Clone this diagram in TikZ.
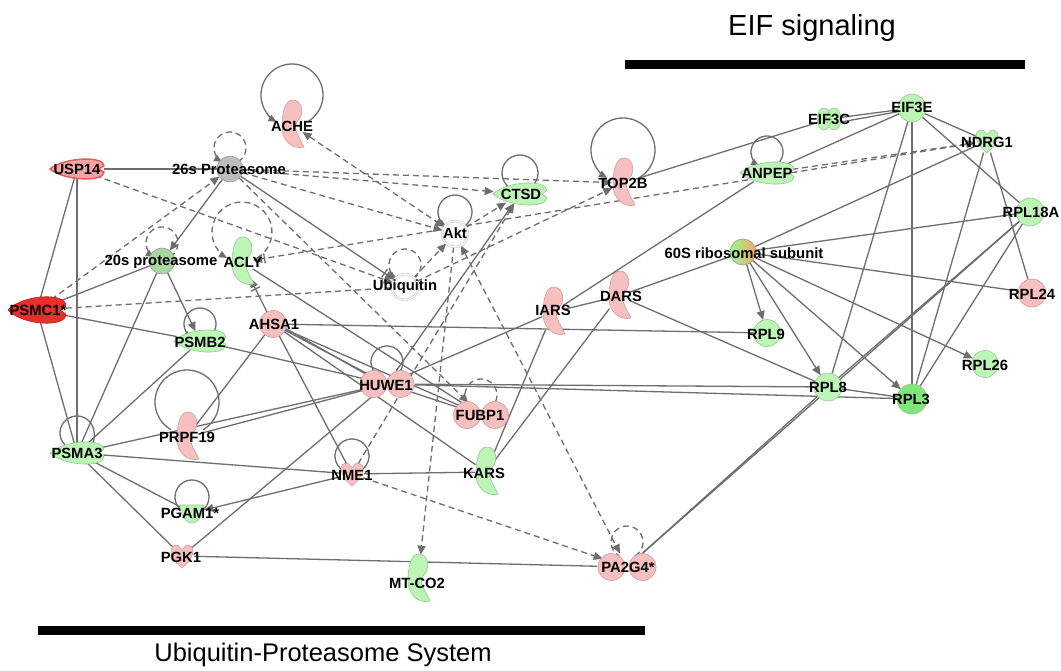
\documentclass[tikz,border=0pt]{standalone}
\usepackage{fontspec}
\setmainfont{Liberation Sans}
\usetikzlibrary{arrows.meta,shapes.geometric}
\pgfdeclarelayer{bg}
\pgfdeclarelayer{paper}
\pgfsetlayers{paper,bg,main}
\definecolor{edgec}{HTML}{6E6E6E}
\definecolor{pinkf}{HTML}{F7C0C0}
\definecolor{pinkd}{HTML}{D59A9A}
\definecolor{greenf}{HTML}{BDF5B6}
\definecolor{greend}{HTML}{93C98E}
\definecolor{redf}{HTML}{E8302A}
\definecolor{redd}{HTML}{B52020}
\definecolor{salmf}{HTML}{F6A3A3}
\definecolor{salmd}{HTML}{E25A5A}
\definecolor{brightg}{HTML}{7DE879}
\definecolor{grayf}{HTML}{BDBDBD}
\definecolor{grayd}{HTML}{9A9A9A}
\definecolor{gtwf}{HTML}{A8D8A2}
\tikzset{
 nd/.style={inner sep=0pt, outer sep=0pt},
 cn/.style={nd, circle, line width=0.6pt},
 sl/.style={draw=edgec, line width=1.3pt},
 dl/.style={draw=edgec, line width=1.3pt, dash pattern=on 6pt off 4pt},
 arr/.style={-{Triangle[length=9pt,width=8pt]}},
 darr/.style={{Triangle[length=9pt,width=8pt]}-{Triangle[length=9pt,width=8pt]}},
 barr/.style={-{Bar[width=10pt,sep=2pt]Triangle[length=9pt,width=8pt]}},
 larr/.style={-{Triangle[length=8pt,width=7pt]}},
 rlarr/.style={{Triangle[length=8pt,width=7pt]}-},
 lbl/.style={font=\fontsize{14.8}{15}\selectfont\bfseries, inner sep=0pt, text=black},
}
\newcommand{\shLoop}[4]{\draw[#1] ([shift={(0pt,#3pt)}]#2.center) ++(-60:#4pt) arc[start angle=-60,end angle=240,radius=#4pt];}
\newcommand{\shEnz}[3]{\begin{scope}[shift={(#1.center)}]\filldraw[fill=#2,draw=#3,line width=0.6pt] (1,-25) .. controls (9,-25) and (12,-14) .. (8,-7) .. controls (3,-2) and (2,3) .. (5,8) .. controls (7,13) and (10,18) .. (12,22) .. controls (1,25) and (-10,16) .. (-10,2) .. controls (-10,-10) and (-8,-25) .. (1,-25) -- cycle;\end{scope}}
\newcommand{\shPep}[6]{\begin{scope}[shift={(#1.center)}]\filldraw[fill=#4,draw=#5,line width=#6] ({-#2},0) .. controls ({-0.5*#2},{-1.3*#3}) and ({1.0*#2},{-1.5*#3}) .. ({#2},{-0.35*#3}) -- ({0.8*#2},0) -- ({#2},{0.35*#3}) .. controls ({1.0*#2},{1.5*#3}) and ({-0.5*#2},{1.3*#3}) .. ({-#2},0) -- cycle;\end{scope}}
\newcommand{\shDbl}[4]{\begin{scope}[shift={(#1.center)}]\filldraw[fill=#3,draw=#4,line width=0.6pt] (-#2,0) circle[radius=13.5pt] (#2,0) circle[radius=13.5pt];\end{scope}}
\newcommand{\shKin}[3]{\begin{scope}[shift={(#1.center)}]\filldraw[fill=#2,draw=#3,line width=0.6pt] (0,12) .. controls (-6,7) and (-11,1) .. (-11,-5) .. controls (-11,-12) and (-3,-13) .. (-1,-7) -- (1,-7) .. controls (3,-13) and (11,-12) .. (11,-5) .. controls (11,1) and (6,7) .. (0,12) -- cycle;\end{scope}}
\begin{document}
\begin{tikzpicture}[x=1pt,y=-1pt]
\begin{pgfonlayer}{paper}
\fill[white] (0,0) rectangle (1061,671);
\end{pgfonlayer}
\useasboundingbox (0,0) rectangle (1061,671);
% ---- circle nodes
\node[cn, minimum size=26pt, fill=grayf, draw=grayd] (p26) at (230,169) {};
\node[cn, minimum size=26pt, fill=gtwf, draw=grayd] (p20) at (162,261) {};
\node[cn, minimum size=26pt, fill=white, draw=gray!45, double=white, double distance=1.2pt] (ubq) at (405,287) {};
\node[cn, minimum size=26pt, fill=white, draw=gray!45, double=white, double distance=1.2pt] (akt) at (455,234) {};
\node[cn, minimum size=26pt, left color=green!45!white, right color=orange!45!pink, draw=grayd] (s60) at (743,252) {};
\node[cn, minimum size=28pt, fill=greenf, draw=greend] (eif3e) at (912,108) {};
\node[cn, minimum size=28pt, fill=greenf, draw=greend] (rpl18a) at (1030,212) {};
\node[cn, minimum size=28pt, fill=pinkf, draw=pinkd] (rpl24) at (1032,293) {};
\node[cn, minimum size=27pt, fill=greenf, draw=greend] (rpl9) at (767,333) {};
\node[cn, minimum size=27pt, fill=greenf, draw=greend] (rpl26) at (985,364) {};
\node[cn, minimum size=28pt, fill=greenf, draw=greend] (rpl8) at (828,387) {};
\node[cn, minimum size=30pt, fill=brightg, draw=greend] (rpl3) at (912,399) {};
\node[cn, minimum size=27pt, fill=pinkf, draw=pinkd] (ahsa1) at (273,324) {};
% ---- placeholders for drawn shapes
\node[nd, ellipse, minimum width=22pt, minimum height=50pt] (ache) at (292,125) {};
\node[nd, ellipse, minimum width=22pt, minimum height=50pt] (acly) at (242,262) {};
\node[nd, ellipse, minimum width=22pt, minimum height=50pt] (top2b) at (623,183) {};
\node[nd, ellipse, minimum width=22pt, minimum height=50pt] (iars) at (553,312) {};
\node[nd, ellipse, minimum width=22pt, minimum height=50pt] (dars) at (619,296) {};
\node[nd, ellipse, minimum width=22pt, minimum height=50pt] (prpf19) at (187,437) {};
\node[nd, ellipse, minimum width=22pt, minimum height=50pt] (kars) at (486,472) {};
\node[nd, ellipse, minimum width=22pt, minimum height=50pt] (mtco2) at (418,579) {};
\node[nd, ellipse, minimum width=54pt, minimum height=18pt] (usp) at (77,169) {};
\node[nd, ellipse, minimum width=58pt, minimum height=24pt] (psmc) at (37,310) {};
\node[nd, ellipse, minimum width=54pt, minimum height=20pt] (ctsd) at (520,194) {};
\node[nd, ellipse, minimum width=54pt, minimum height=20pt] (anpep) at (767,173) {};
\node[nd, ellipse, minimum width=52pt, minimum height=20pt] (psmb2) at (200,341) {};
\node[nd, ellipse, minimum width=54pt, minimum height=20pt] (psma3) at (77,453) {};
\node[nd, ellipse, minimum width=56pt, minimum height=28pt] (huwe1) at (387,384) {};
\node[nd, ellipse, minimum width=56pt, minimum height=28pt] (fubp1) at (481,415) {};
\node[nd, ellipse, minimum width=60pt, minimum height=28pt] (pa2g4) at (627,567) {};
\node[nd, circle, minimum size=24pt] (nme1) at (352,474) {};
\node[nd, circle, minimum size=24pt] (pgk1) at (182,556) {};
\node[nd, circle, minimum size=24pt] (ndrg1) at (987,141) {};
\node[nd, ellipse, minimum width=24pt, minimum height=22pt] (eif3c) at (829,119) {};
\node[nd, ellipse, minimum width=26pt, minimum height=20pt] (pgam1) at (192,513) {};
% ---- connectors
\begin{pgfonlayer}{bg}
\shLoop{sl,larr}{ache}{30}{31}
\shLoop{dl,larr}{p26}{21}{16}
\shLoop{dl,larr}{p20}{18}{16}
\shLoop{dl,larr}{acly}{30}{30}
\shLoop{dl,larr}{ubq}{22}{16}
\shLoop{sl,larr}{akt}{22}{17}
\shLoop{sl}{ctsd}{21}{18}
\shLoop{sl,larr}{top2b}{33}{32}
\shLoop{sl,larr}{anpep}{21}{16}
\shLoop{sl,larr}{psmb2}{17}{16}
\shLoop{sl,rlarr}{psma3}{20}{17}
\shLoop{sl}{prpf19}{35}{32}
\shLoop{sl}{huwe1}{22}{16}
\shLoop{dl}{fubp1}{20}{16}
\shLoop{sl}{nme1}{18}{17}
\shLoop{sl}{pgam1}{16}{17}
\shLoop{dl}{pa2g4}{25}{16}
\draw[sl] (usp) -- (p26);
\draw[dl,arr] (usp) -- (ubq);
\draw[sl] (usp) -- (psmc);
\draw[sl] (usp) -- (psma3);
\draw[dl,arr] (psmc) -- (p26);
\draw[sl] (psmc) -- (p20);
\draw[sl] (psmc) -- (psmb2);
\draw[sl] (psmc) -- (psma3);
\draw[dl] (psmc) -- (ubq);
\draw[sl,arr] (p26) -- (p20);
\draw[dl,arr] (p26) -- (ctsd);
\draw[dl,arr] (p26) -- (top2b);
\draw[dl,arr] (p26) -- (akt);
\draw[sl,barr] (p26) -- (ubq);
\draw[dl,arr] (p26) -- (fubp1);
\draw[sl,arr] (p20) -- (psmb2);
\draw[sl] (p20) -- (psma3);
\draw[sl] (psmb2) -- (psma3);
\draw[sl] (psmb2) -- (huwe1);
\draw[dl,darr] (ache) -- (akt);
\draw[dl,arr] (ubq) -- (akt);
\draw[dl,arr] (ubq) -- (top2b);
\draw[dl,arr] (akt) -- (ctsd);
\draw[dl,arr] (akt) -- (mtco2);
\draw[dl,darr] (akt) -- (pa2g4);
\draw[dl,barr] (ndrg1) -- (acly);
\draw[dl,arr] (anpep) -- (ndrg1);
\draw[sl,barr] (ahsa1) -- (acly);
\draw[sl] (ahsa1) -- (rpl9);
\draw[sl] (ahsa1) -- (huwe1);
\draw[sl] (ahsa1.-20) -- (huwe1.155);
\draw[sl] (ahsa1) -- (fubp1);
\draw[sl] (ahsa1) -- (kars);
\draw[sl] (ahsa1) -- (nme1);
\draw[sl] (ahsa1) -- (prpf19);
\draw[sl] (acly) -- (fubp1);
\draw[sl,arr] (huwe1) -- (ctsd);
\draw[dl,arr] (nme1) -- (ctsd);
\draw[sl] (huwe1) -- (iars);
\draw[sl] (huwe1) -- (rpl8);
\draw[sl] (huwe1) -- (rpl3);
\draw[sl] (huwe1) -- (fubp1);
\draw[sl] (psma3) -- (huwe1);
\draw[sl] (prpf19) -- (huwe1);
\draw[sl] (psma3) -- (nme1);
\draw[sl] (psma3) -- (pgam1);
\draw[sl] (psma3) -- (pgk1);
\draw[sl,arr] (nme1) -- (pgam1);
\draw[sl] (nme1) -- (kars);
\draw[dl,arr] (nme1) -- (pa2g4);
\draw[sl] (pgk1) -- (huwe1);
\draw[sl] (pgk1) -- (pa2g4);
\draw[sl] (kars) -- (iars);
\draw[sl] (kars) -- (dars);
\draw[sl] (iars) -- (dars);
\draw[sl] (iars) -- (anpep);
\draw[sl] (dars) -- (s60);
\draw[sl] (dars) -- (rpl8);
\draw[sl] (top2b) -- (eif3c);
\draw[sl,arr] (s60) -- (rpl9);
\draw[sl,arr] (s60) -- (rpl8);
\draw[sl,arr] (s60) -- (rpl3);
\draw[sl,arr] (s60) -- (rpl26);
\draw[sl] (s60) -- (rpl24);
\draw[sl] (s60) -- (rpl18a);
\draw[sl] (s60) -- (ndrg1);
\draw[sl] (eif3e) -- (eif3c);
\draw[sl] (eif3e.195) -- (eif3c.-15);
\draw[sl] (eif3e) -- (anpep);
\draw[sl] (eif3e) -- (ndrg1);
\draw[sl] (eif3e) -- (rpl18a);
\draw[sl] (eif3e) -- (rpl8);
\draw[sl] (eif3e) -- (rpl3);
\draw[sl] (ndrg1) -- (rpl3);
\draw[sl] (ndrg1) -- (rpl24);
\draw[sl] (rpl18a) -- (rpl8);
\draw[sl] (rpl18a) -- (rpl3);
\draw[sl] (rpl8) -- (rpl3);
\draw[sl] (pa2g4) -- (rpl8);
\draw[sl] (pa2g4) -- (rpl18a);
\end{pgfonlayer}
% ---- drawn shapes
\shEnz{ache}{pinkf}{pinkd}
\shEnz{acly}{greenf}{greend}
\shEnz{top2b}{pinkf}{pinkd}
\shEnz{iars}{pinkf}{pinkd}
\shEnz{dars}{pinkf}{pinkd}
\shEnz{prpf19}{pinkf}{pinkd}
\shEnz{kars}{greenf}{greend}
\shEnz{mtco2}{greenf}{greend}
\shPep{usp}{27}{9}{salmf}{salmd}{1.4pt}
\shPep{psmc}{29}{12}{redf}{redd}{0.6pt}
\shPep{ctsd}{27}{10}{greenf}{greend}{0.6pt}
\shPep{anpep}{27}{10}{greenf}{greend}{0.6pt}
\shPep{psmb2}{26}{10}{greenf}{greend}{0.6pt}
\shPep{psma3}{27}{10}{greenf}{greend}{0.6pt}
\shDbl{huwe1}{13.5}{pinkf}{pinkd}
\shDbl{fubp1}{14}{pinkf}{pinkd}
\shDbl{pa2g4}{15.5}{pinkf}{pinkd}
\shKin{nme1}{pinkf}{pinkd}
\shKin{pgk1}{pinkf}{pinkd}
\shKin{ndrg1}{greenf}{greend}
\filldraw[fill=greenf, draw=greend, line width=0.6pt] ([xshift=-5pt]eif3c.center) ellipse[x radius=7pt, y radius=11pt] ([xshift=5pt]eif3c.center) ellipse[x radius=7pt, y radius=11pt];
\filldraw[fill=greenf, draw=greend, line width=0.6pt] ([shift={(-12pt,8pt)}]pgam1.center) -- ++(24pt,0pt) .. controls ++(0pt,-8pt) and ++(7pt,0pt) .. ([shift={(0pt,-10pt)}]pgam1.center) .. controls ++(-7pt,0pt) and ++(0pt,-8pt) .. ([shift={(-12pt,8pt)}]pgam1.center) -- cycle;
% ---- labels
\node[lbl] (l-usp) at (77,169) {USP14};
\node[lbl] (l-p26) at (229,169) {26s Proteasome};
\node[lbl] (l-ache) at (292,126) {ACHE};
\node[lbl] (l-p20) at (161,262) {20s proteasome};
\node[lbl] (l-acly) at (243,262) {ACLY};
\node[lbl] (l-psmc) at (38,310) {PSMC1*};
\node[lbl] (l-ubq) at (405,287) {Ubiquitin};
\node[lbl] (l-akt) at (455,233) {Akt};
\node[lbl] (l-ctsd) at (521,194) {CTSD};
\node[lbl] (l-top2b) at (623,183) {TOP2B};
\node[lbl] (l-iars) at (553,310) {IARS};
\node[lbl] (l-dars) at (621,296) {DARS};
\node[lbl] (l-s60) at (744,253) {60S ribosomal subunit};
\node[lbl] (l-eif3c) at (829,119) {EIF3C};
\node[lbl] (l-eif3e) at (912,107) {EIF3E};
\node[lbl] (l-ndrg1) at (987,142) {NDRG1};
\node[lbl] (l-anpep) at (767,173) {ANPEP};
\node[lbl] (l-rpl18a) at (1031,212) {RPL18A};
\node[lbl] (l-rpl24) at (1032,294) {RPL24};
\node[lbl] (l-rpl9) at (766,334) {RPL9};
\node[lbl] (l-rpl26) at (985,365) {RPL26};
\node[lbl] (l-rpl8) at (828,387) {RPL8};
\node[lbl] (l-rpl3) at (911,399) {RPL3};
\node[lbl] (l-ahsa1) at (274,324) {AHSA1};
\node[lbl] (l-psmb2) at (200,342) {PSMB2};
\node[lbl] (l-huwe1) at (386,385) {HUWE1};
\node[lbl] (l-fubp1) at (480,415) {FUBP1};
\node[lbl] (l-prpf19) at (187,437) {PRPF19};
\node[lbl] (l-psma3) at (77,453) {PSMA3};
\node[lbl] (l-nme1) at (352,475) {NME1};
\node[lbl] (l-kars) at (484,473) {KARS};
\node[lbl] (l-pgam1) at (190,513) {PGAM1*};
\node[lbl] (l-pgk1) at (181,557) {PGK1};
\node[lbl] (l-mtco2) at (417,583) {MT-CO2};
\node[lbl] (l-pa2g4) at (628,567) {PA2G4*};
% ---- group titles and bars
\node[font=\fontsize{29}{29}\selectfont, inner sep=0pt] (t-eif) at (812,28) {EIF signaling};
\fill[black] (625,60) rectangle (1025,69);
\node[font=\fontsize{25.5}{25.5}\selectfont, inner sep=0pt] (t-ups) at (323,655) {Ubiquitin-Proteasome System};
\fill[black] (38,626) rectangle (645,635);
\end{tikzpicture}
\end{document}
